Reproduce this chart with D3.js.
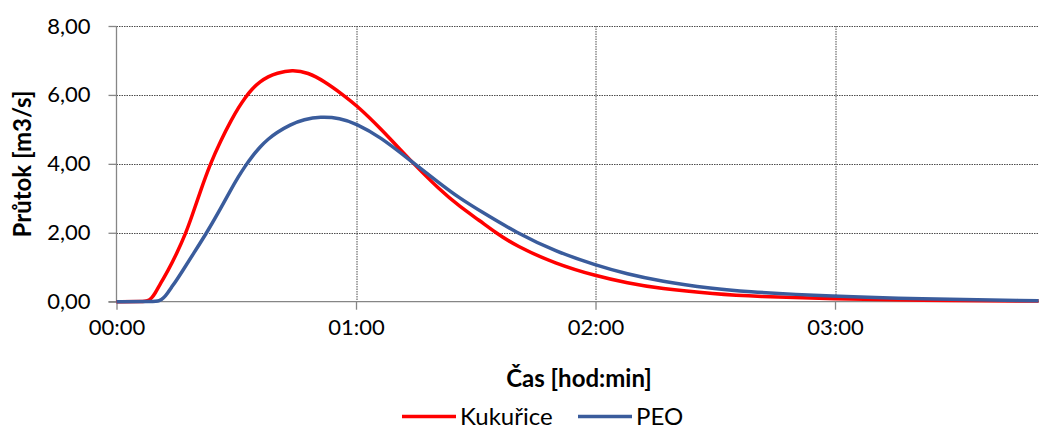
<!DOCTYPE html>
<html>
<head>
<meta charset="utf-8">
<script src="https://cdn.jsdelivr.net/npm/d3@7"></script>
<style>
  body { margin: 0; background: #fff; }
  .tick text { font-family: Lato, "Open Sans", sans-serif; font-size: 22px; fill: #000; }
  .axisTitle { font-family: Lato, "Open Sans", sans-serif; font-size: 24px; font-weight: bold; fill: #000; }
  .legendText { font-family: Lato, "Open Sans", sans-serif; font-size: 24px; fill: #000; }
</style>
</head>
<body>
<div class="chart"></div>
<script>
var svgWidth = 1039;
var svgHeight = 429;

var margin = { top: 26, right: 0, bottom: 127, left: 116.5 };
var width = svgWidth - margin.left - margin.right;
var height = 301.7 - margin.top;

// time in minutes, flow in m3/s
var kukuriceTime = [0, 6.8, 7.8, 8.8, 9.7, 10.5, 13, 15.1, 17.4, 18.8, 21, 23.5, 26, 28.9, 30.5, 32.2, 34, 36, 38, 40, 44, 48, 52, 56.8, 60, 66, 73.5, 81, 86, 91, 94.8, 100, 110, 120, 128, 136, 150, 160, 180, 200, 231];
var kukuriceFlow = [0, 0, 0.02, 0.1, 0.25, 0.42, 0.92, 1.4, 2.0, 2.45, 3.2, 4.0, 4.65, 5.3, 5.62, 5.92, 6.18, 6.39, 6.53, 6.63, 6.73, 6.65, 6.4, 6.0, 5.71, 5.05, 4.11, 3.24, 2.76, 2.35, 2.02, 1.62, 1.1, 0.75, 0.54, 0.38, 0.22, 0.15, 0.08, 0.04, 0.02];

var peoTime = [0, 9.5, 10.7, 11.8, 12.8, 13.8, 15, 16.3, 19.2, 22.6, 25.5, 28.5, 30.5, 32.2, 34, 36, 38, 40, 43.5, 47, 51, 56, 60, 66, 73.5, 81, 86, 91, 100.2, 110, 120, 128, 136, 150, 156, 180, 200, 231];
var peoFlow = [0, 0, 0.02, 0.1, 0.25, 0.42, 0.62, 0.85, 1.38, 2.0, 2.58, 3.22, 3.62, 3.93, 4.22, 4.5, 4.72, 4.9, 5.14, 5.29, 5.37, 5.33, 5.17, 4.79, 4.11, 3.43, 3.0, 2.64, 2.0, 1.46, 1.06, 0.8, 0.6, 0.37, 0.3, 0.15, 0.08, 0.03];

var xTicks = [0, 60, 120, 180];
var yTicks = [0, 2, 4, 6, 8];
var seriesNames = ["Kukuřice", "PEO"];
var seriesColors = ["#ff0000", "#3a5c9c"];

var svg = d3.select(".chart")
  .append("svg")
  .attr("width", svgWidth)
  .attr("height", svgHeight)
  .append("g")
  .attr("transform", "translate(" + margin.left + "," + margin.top + ")");

var xScale = d3.scaleLinear().domain([0, 231.1]).range([0, width]);
var yScale = d3.scaleLinear().domain([0, 8]).range([height, 0]);

// grid lines
svg.append("g")
  .selectAll("line")
  .data(yTicks.slice(1))
  .enter()
  .append("line")
  .attr("x1", 0)
  .attr("x2", width)
  .attr("y1", function(d) { return Math.round(yScale(d)) + 0.5; })
  .attr("y2", function(d) { return Math.round(yScale(d)) + 0.5; })
  .attr("stroke", "#4d4d4d")
  .attr("stroke-dasharray", "1.5,1");

svg.append("g")
  .selectAll("line")
  .data(xTicks.slice(1))
  .enter()
  .append("line")
  .attr("x1", function(d) { return Math.round(xScale(d)) + 0.5; })
  .attr("x2", function(d) { return Math.round(xScale(d)) + 0.5; })
  .attr("y1", 0)
  .attr("y2", height)
  .attr("stroke", "#4d4d4d")
  .attr("stroke-dasharray", "1.5,1");

// axes
var bottomAxis = d3.axisBottom(xScale)
  .tickValues(xTicks)
  .tickSize(8)
  .tickPadding(10)
  .tickFormat(function(d) {
    var h = Math.floor(d / 60), m = d % 60;
    return String(h).padStart(2, "0") + ":" + String(m).padStart(2, "0");
  });

var leftAxis = d3.axisLeft(yScale)
  .tickValues(yTicks)
  .tickSize(8)
  .tickPadding(18)
  .tickFormat(function(d) { return d3.format(".2f")(d).replace(".", ","); });

var xAxisG = svg.append("g")
  .attr("transform", "translate(0," + height + ")")
  .call(bottomAxis);

var yAxisG = svg.append("g")
  .call(leftAxis);

[xAxisG, yAxisG].forEach(function(g) {
  g.select(".domain").attr("stroke", "#868686").attr("stroke-width", 1.3);
  g.selectAll(".tick line").attr("stroke", "#868686").attr("stroke-width", 1.3);
});
yAxisG.select(".domain").attr("d", "M0," + height + "V0");
xAxisG.select(".domain").attr("d", "M-8,0H" + width);

// lines
var line = d3.line()
  .x(function(d) { return xScale(d[0]); })
  .y(function(d) { return yScale(d[1]); })
  .curve(d3.curveBasis);

var seriesData = [
  d3.zip(kukuriceTime, kukuriceFlow),
  d3.zip(peoTime, peoFlow)
];

svg.selectAll(".series")
  .data(seriesData)
  .enter()
  .append("path")
  .attr("class", "series")
  .attr("d", line)
  .attr("fill", "none")
  .attr("stroke", function(d, i) { return seriesColors[i]; })
  .attr("stroke-width", 3.5)
  .attr("stroke-linejoin", "round");

// axis titles
svg.append("text")
  .attr("class", "axisTitle")
  .attr("transform", "translate(" + (31 - margin.left) + "," + (164 - margin.top) + ") rotate(-90)")
  .attr("text-anchor", "middle")
  .text("Průtok [m3/s]");

svg.append("text")
  .attr("class", "axisTitle")
  .attr("x", 579 - margin.left)
  .attr("y", 387 - margin.top)
  .attr("text-anchor", "middle")
  .text("Čas [hod:min]");

// legend
var legendX = [402, 578];
var legend = d3.select("svg").append("g");
seriesNames.forEach(function(name, i) {
  legend.append("line")
    .attr("x1", legendX[i])
    .attr("x2", legendX[i] + 54)
    .attr("y1", 416.5)
    .attr("y2", 416.5)
    .attr("stroke", seriesColors[i])
    .attr("stroke-width", 3.5);
  legend.append("text")
    .attr("class", "legendText")
    .attr("x", legendX[i] + 58)
    .attr("y", 425)
    .text(name);
});
</script>
</body>
</html>
